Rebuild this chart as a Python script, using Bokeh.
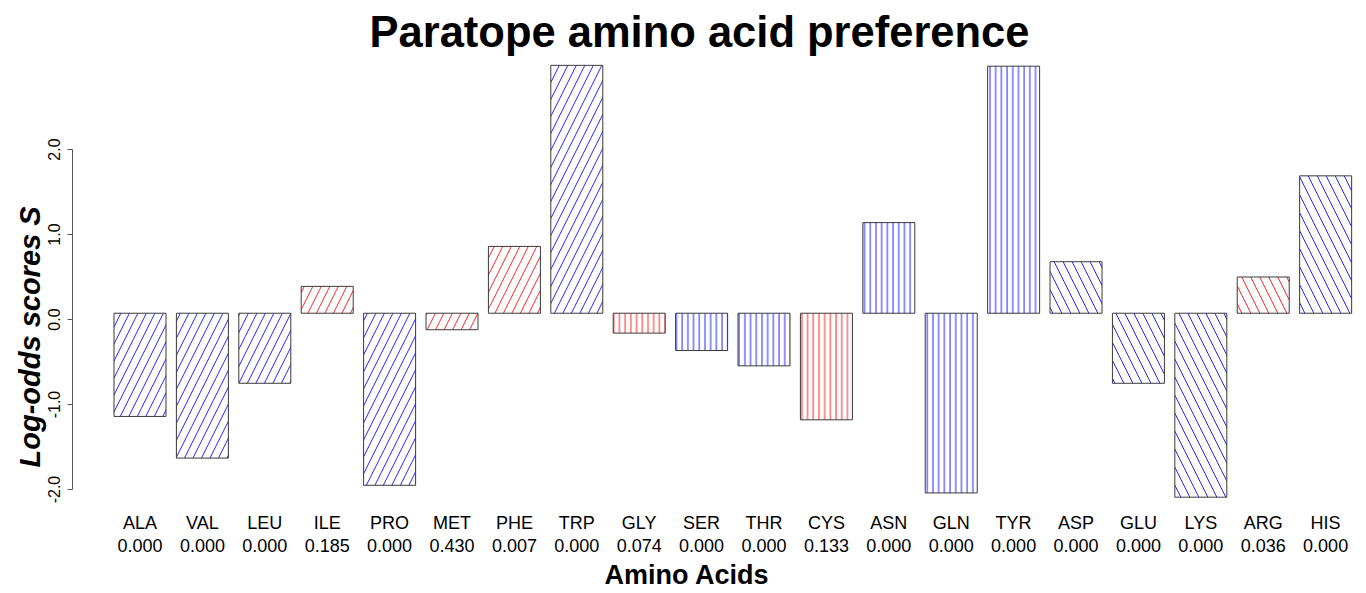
from bokeh.plotting import figure
from bokeh.models import (Range1d, FixedTicker, LinearAxis, Title,
                          PrintfTickFormatter, ColumnDataSource)
from bokeh.embed import file_html
from bokeh.resources import INLINE

# ---------------- data ----------------
amino = ["ALA", "VAL", "LEU", "ILE", "PRO", "MET", "PHE", "TRP", "GLY", "SER",
         "THR", "CYS", "ASN", "GLN", "TYR", "ASP", "GLU", "LYS", "ARG", "HIS"]
pvalues = ["0.000", "0.000", "0.000", "0.185", "0.000", "0.430", "0.007", "0.000",
           "0.074", "0.000", "0.000", "0.133", "0.000", "0.000", "0.000", "0.000",
           "0.000", "0.000", "0.036", "0.000"]
scores = [-1.14, -1.63, -0.75, 0.39, -1.95, -0.12, 0.86, 2.99, -0.16, -0.365,
          -0.545, -1.18, 1.14, -2.04, 2.98, 0.68, -0.75, -2.09, 0.50, 1.69]
groups = ["hydrophobic"] * 8 + ["polar"] * 7 + ["charged"] * 5
colors = ["blue", "blue", "blue", "red", "blue", "red", "red", "blue", "red", "blue",
          "blue", "red", "blue", "blue", "blue", "blue", "blue", "blue", "red", "blue"]
y_ticks = [-2, -1, 0, 1, 2]
baseline = 0.074

# ---------------- styles ----------------
FONT = "Liberation Sans"
pattern_of = {"hydrophobic": "/", "polar": "|", "charged": "\\"}
scale_of = {"hydrophobic": 17.0, "polar": 5.7, "charged": 18.0}

idx = list(range(len(amino)))
src = ColumnDataSource(dict(
    x=idx,
    top=scores,
    bottom=[baseline] * len(scores),
    hatch=[pattern_of[g] for g in groups],
    hscale=[scale_of[g] for g in groups],
    color=colors,
))

p = figure(width=1366, height=593,
           x_range=Range1d(-1.0817, 19.655), y_range=Range1d(-2.129, 3.047),
           min_border_left=72, min_border_right=0, min_border_top=60,
           min_border_bottom=93, output_backend="svg", toolbar_location=None,
           outline_line_color=None)
p.grid.visible = False

p.vbar(x="x", width=1 / 1.2, top="top", bottom="bottom", source=src,
       fill_color="white", line_color="#3a3a3a", line_width=1,
       hatch_pattern="hatch", hatch_color="color", hatch_scale="hscale",
       hatch_weight=1, hatch_alpha=0.85)

# main title
p.title.text = "Paratope amino acid preference"
p.title.align = "left"
p.title.offset = 297
p.title.standoff = 9
p.title.text_font = FONT
p.title.text_font_size = "43.5px"
p.title.text_font_style = "bold"
p.title.text_color = "black"

# y axis
ya = p.yaxis[0]
ya.ticker = FixedTicker(ticks=y_ticks)
ya.formatter = PrintfTickFormatter(format="%.1f")
ya.bounds = (min(y_ticks), max(y_ticks))
ya.major_label_orientation = "vertical"
ya.major_tick_out = 5
ya.major_tick_in = 0
ya.minor_tick_line_color = None
ya.major_label_standoff = 7
ya.major_label_text_font = FONT
ya.major_label_text_font_size = "16px"
ya.major_label_text_color = "black"
ya.axis_line_color = "#555555"
ya.major_tick_line_color = "#555555"

p.add_layout(Title(text="Log-odds scores S", align="left", offset=33, standoff=0,
                   text_font=FONT, text_font_size="29px",
                   text_font_style="bold italic", text_color="black"), "left")

# x axis: amino acid names
xa = p.xaxis[0]
xa.ticker = FixedTicker(ticks=idx)
xa.major_label_overrides = {i: a for i, a in zip(idx, amino)}
xa.axis_line_color = None
xa.major_tick_line_color = None
xa.minor_tick_line_color = None
xa.major_tick_out = 0
xa.major_tick_in = 0
xa.major_label_standoff = 12
xa.major_label_text_font = FONT
xa.major_label_text_font_size = "18px"
xa.major_label_text_color = "black"

# second x axis: p-values
xb = LinearAxis(ticker=FixedTicker(ticks=idx),
                major_label_overrides={i: v for i, v in zip(idx, pvalues)},
                axis_line_color=None, major_tick_line_color=None,
                minor_tick_line_color=None, major_tick_out=0, major_tick_in=0,
                major_label_standoff=3, major_label_text_font=FONT,
                major_label_text_font_size="18px", major_label_text_color="black")
p.add_layout(xb, "below")

p.add_layout(Title(text="Amino Acids", align="left", offset=532, standoff=6,
                   text_font=FONT, text_font_size="27px", text_font_style="bold",
                   text_color="black"), "below")

open("out.html", "w").write(file_html(p, INLINE))
